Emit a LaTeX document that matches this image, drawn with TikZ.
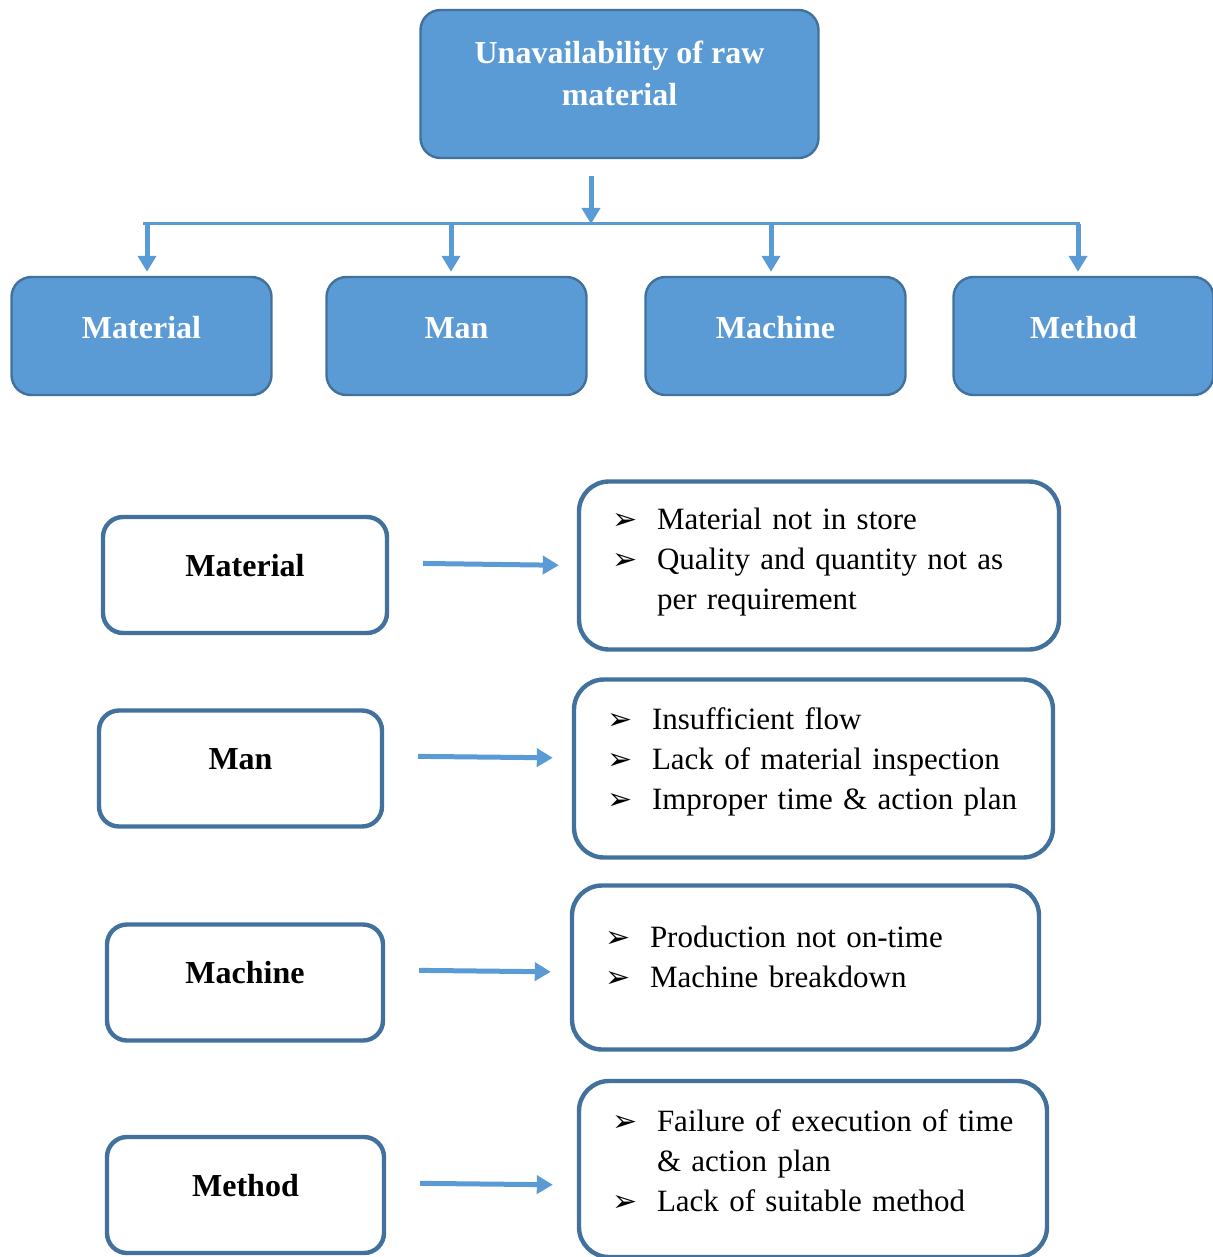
\documentclass[tikz,border=0pt]{standalone}
\usepackage{fontspec}
\setmainfont{Liberation Serif}
\newfontfamily\symfont{DejaVu Sans}
\usetikzlibrary{arrows.meta}

\definecolor{boxblue}{HTML}{5B9BD5}
\definecolor{edgeblue}{HTML}{41719C}

\newcommand{\itm}{\makebox[22.5pt][l]{\symfont\fontsize{15}{15}\selectfont ➢}}
\newcommand{\ind}{\hspace*{22.5pt}}
\newcommand{\tailrule}[1]{\rule[-#1]{0pt}{#1}}

\tikzset{
  head/.style={draw=edgeblue, fill=boxblue, line width=1.2pt, rounded corners=10pt,
    text=white, font=\fontsize{16}{21}\selectfont\bfseries, align=center,
    text height=11pt, text depth=9pt},
  cause/.style={draw=edgeblue, line width=2.2pt, rounded corners=10pt,
    minimum height=58pt, font=\fontsize{16}{21}\selectfont\bfseries,
    text height=11pt, text depth=10pt},
  list/.style={draw=edgeblue, line width=2.2pt, rounded corners=15pt, align=left,
    inner xsep=16.5pt, font=\fontsize{15.5}{20}\selectfont},
  arr/.style={draw=boxblue, line width=2.5pt, -{Triangle[width=9pt,length=8pt]}},
  bus/.style={draw=boxblue, line width=1.5pt},
}

\begin{document}
\begin{tikzpicture}[x=0.5pt, y=-0.5pt]
  \useasboundingbox (0,0) rectangle (1212,1257);

  % top of the tree
  \node[draw=edgeblue, fill=boxblue, line width=1.2pt, rounded corners=10pt, text=white,
    font=\fontsize{16}{21}\selectfont\bfseries, align=center, text depth=11pt,
    minimum width=199pt, minimum height=74pt] (top) at (619.5,84)
    {Unavailability of raw\\material};

  \node[head, minimum width=130pt, minimum height=59pt] (hmat) at (141.5,336) {Material};
  \node[head, minimum width=130pt, minimum height=59pt] (hman) at (456.5,336) {Man};
  \node[head, minimum width=130pt, minimum height=59pt] (hmac) at (775.5,336) {Machine};
  \node[head, minimum width=130pt, minimum height=59pt] (hmet) at (1083.5,336) {Method};

  \coordinate (bus) at (591,224);
  \coordinate (bl) at (143,224);
  \coordinate (br) at (1080,224);
  \draw[bus] (bl) -- (br);
  \draw[arr, shorten <=8.5pt] (bus |- top.south) -- (bus);

  \foreach \n/\x in {hmat/147, hman/451, hmac/771, hmet/1078} {
    \coordinate (d\n) at (\x,224);
    \draw[arr, shorten >=2pt] (d\n) -- (d\n |- \n.north);
  }

  % causes
  \node[cause, minimum width=142pt] (lmat) at (245,575) {Material};
  \node[cause, minimum width=141.5pt] (lman) at (240.5,768.5) {Man};
  \node[cause, minimum width=138pt] (lmac) at (245,982.5) {Machine};
  \node[cause, minimum width=138.5pt] (lmet) at (245.5,1195) {Method};

  \node[list, text width=207pt, minimum height=84pt] (rmat) at (819,565.5)
    {\itm Material not in store\\
     \itm Quality and quantity not as\\
     \ind per requirement\tailrule{7pt}};
  \node[list, text width=206.5pt, minimum height=89pt] (rman) at (813.5,768.5)
    {\itm Insufficient flow\\
     \itm Lack of material inspection\\
     \itm Improper time \& action plan\tailrule{10pt}};
  \node[list, text width=200.5pt, minimum height=82pt] (rmac) at (805.5,967.5)
    {\itm Production not on-time\\
     \itm Machine breakdown\tailrule{11pt}};
  \node[list, text width=201pt, minimum height=88pt] (rmet) at (813,1169)
    {\itm Failure of execution of time\\
     \ind \& action plan\\
     \itm Lack of suitable method\tailrule{8pt}};

  \draw[arr, shorten <=17pt, shorten >=9pt] ([yshift=6pt]lmat.east) -- ([yshift=0pt]rmat.west);
  \draw[arr, shorten <=17pt, shorten >=9.5pt] ([yshift=6.25pt]lman.east) -- ([yshift=5.25pt]rman.west);
  \draw[arr, shorten <=17pt, shorten >=9.5pt] ([yshift=6.25pt]lmac.east) -- ([yshift=-2.25pt]rmac.west);
  \draw[arr, shorten <=17pt, shorten >=12pt] ([yshift=6pt]lmet.east) -- ([yshift=-8pt]rmet.west);
\end{tikzpicture}
\end{document}
